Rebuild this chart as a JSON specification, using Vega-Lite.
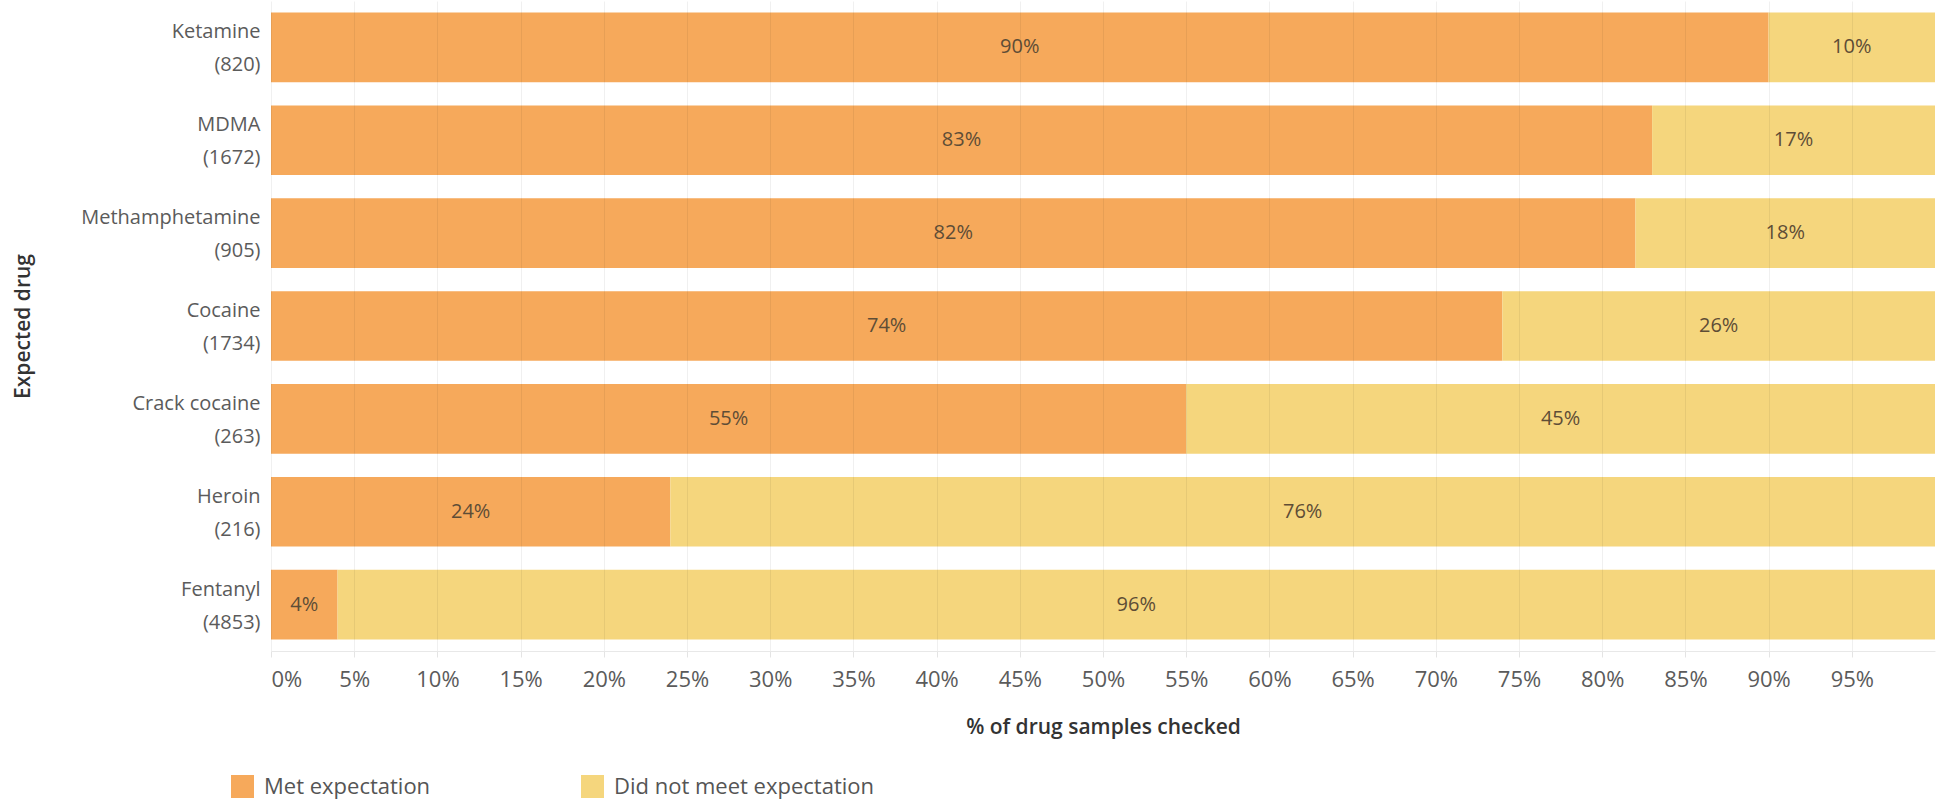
{
  "$schema": "https://vega.github.io/schema/vega-lite/v6.json",
  "width": 1664,
  "height": 650,
  "autosize": {"type": "none"},
  "padding": {"left": 271, "top": 1, "right": 9, "bottom": 150},
  "background": "white",
  "config": {
    "font": "Open Sans",
    "view": {"stroke": null}
  },
  "data": {
    "values": [
      {"label": "Ketamine (820)", "status": "Met expectation", "share": 0.90},
      {"label": "Ketamine (820)", "status": "Did not meet expectation", "share": 0.10},
      {"label": "MDMA (1672)", "status": "Met expectation", "share": 0.83},
      {"label": "MDMA (1672)", "status": "Did not meet expectation", "share": 0.17},
      {"label": "Methamphetamine (905)", "status": "Met expectation", "share": 0.82},
      {"label": "Methamphetamine (905)", "status": "Did not meet expectation", "share": 0.18},
      {"label": "Cocaine (1734)", "status": "Met expectation", "share": 0.74},
      {"label": "Cocaine (1734)", "status": "Did not meet expectation", "share": 0.26},
      {"label": "Crack cocaine (263)", "status": "Met expectation", "share": 0.55},
      {"label": "Crack cocaine (263)", "status": "Did not meet expectation", "share": 0.45},
      {"label": "Heroin (216)", "status": "Met expectation", "share": 0.24},
      {"label": "Heroin (216)", "status": "Did not meet expectation", "share": 0.76},
      {"label": "Fentanyl (4853)", "status": "Met expectation", "share": 0.04},
      {"label": "Fentanyl (4853)", "status": "Did not meet expectation", "share": 0.96}
    ]
  },
  "transform": [
    {
      "stack": "share",
      "groupby": ["label"],
      "sort": [{"field": "status", "order": "descending"}],
      "as": ["share_start", "share_end"]
    },
    {"calculate": "(datum.share_start + datum.share_end) / 2", "as": "label_pos"}
  ],
  "encoding": {
    "y": {
      "field": "label",
      "type": "nominal",
      "sort": null,
      "scale": {"paddingInner": 0.25, "paddingOuter": 0.125},
      "axis": {
        "title": "Expected drug",
        "titleFontSize": 21,
        "titleFontWeight": 600,
        "titleColor": "#333333",
        "titlePadding": 47,
        "labelExpr": "[slice(datum.value, 0, indexof(datum.value, ' (')), slice(datum.value, indexof(datum.value, ' (') + 1)]",
        "labelFontSize": 20,
        "labelLineHeight": 33,
        "labelOffset": -15,
        "labelColor": "#5b5b5b",
        "labelPadding": 11,
        "labelLimit": 400,
        "ticks": false,
        "domain": false
      }
    }
  },
  "layer": [
    {
      "mark": {"type": "bar"},
      "encoding": {
        "x": {
          "field": "share_start",
          "type": "quantitative",
          "scale": {"domain": [0, 1], "nice": false},
          "axis": {
            "title": "% of drug samples checked",
            "titleFontSize": 21,
            "titleFontWeight": 600,
            "titleColor": "#333333",
            "titlePadding": 26,
            "values": [0, 0.05, 0.1, 0.15, 0.2, 0.25, 0.3, 0.35, 0.4, 0.45, 0.5, 0.55, 0.6, 0.65, 0.7, 0.75, 0.8, 0.85, 0.9, 0.95],
            "format": ".0%",
            "labelFlush": true,
            "labelFontSize": 22,
            "labelColor": "#5b5b5b",
            "labelPadding": 12,
            "tickColor": "#e4e4e4",
            "tickSize": 6,
            "domainColor": "#e8e8e8",
            "gridColor": "#000000",
            "gridOpacity": 0.06,
            "zindex": 1
          }
        },
        "x2": {"field": "share_end"},
        "color": {
          "field": "status",
          "type": "nominal",
          "scale": {
            "domain": ["Met expectation", "Did not meet expectation"],
            "range": ["#F6A95B", "#F5D67D"]
          },
          "legend": {
            "title": null,
            "orient": "none",
            "direction": "horizontal",
            "legendX": -40,
            "legendY": 774,
            "padding": 0,
            "symbolType": "square",
            "symbolSize": 529,
            "symbolStrokeWidth": 0,
            "symbolOpacity": 1,
            "labelFontSize": 22,
            "labelColor": "#555555",
            "labelOffset": 10,
            "labelLimit": 400,
            "columnPadding": 150
          }
        }
      }
    },
    {
      "mark": {"type": "text", "fontSize": 20, "color": "#5e4d36"},
      "encoding": {
        "x": {"field": "label_pos", "type": "quantitative"},
        "text": {"field": "share", "type": "quantitative", "format": ".0%"}
      }
    }
  ]
}
